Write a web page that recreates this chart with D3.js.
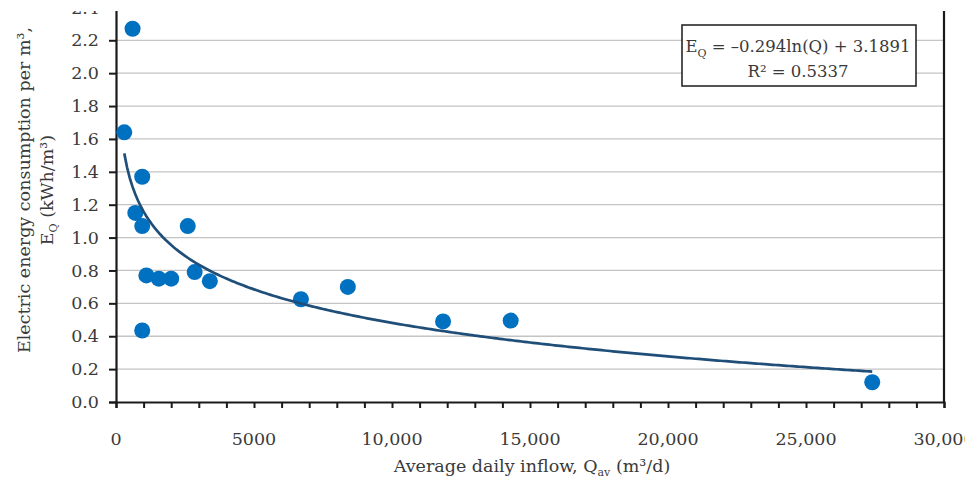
<!DOCTYPE html>
<html>
<head>
<meta charset="utf-8">
<script src="https://cdn.jsdelivr.net/npm/d3@7"></script>
<style>
  body { margin: 0; background: #fff; }
  text { font-family: "DejaVu Serif", serif; fill: #3a3a3a; }
</style>
</head>
<body>
<div id="chart"></div>
<script>
// average daily inflow (m3/d) and energy use per m3 (kWh/m3)
var inflow = [600, 300, 950, 700, 950, 2600, 1100, 1550, 2000, 2850, 3400, 950, 6700, 8400, 11850, 14300, 27400];
var energy = [2.27, 1.64, 1.37, 1.15, 1.07, 1.07, 0.77, 0.75, 0.75, 0.79, 0.735, 0.435, 0.625, 0.70, 0.49, 0.495, 0.12];

// log trend line from the chart: E = a ln(Q) + b
var trendA = -0.294, trendB = 3.1891;
var trendFrom = 300, trendTo = 27400;

var xTicks = [0, 5000, 10000, 15000, 20000, 25000, 30000];
var xTickLabels = ["0", "5000", "10,000", "15,000", "20,000", "25,000", "30,000"];
var yTicks = [0, 0.2, 0.4, 0.6, 0.8, 1.0, 1.2, 1.4, 1.6, 1.8, 2.0, 2.2, 2.4];

var width = 965, height = 478;
var margin = {left: 116, right: 944, top: 7.4, bottom: 402};

var svg = d3.select("#chart").append("svg")
  .attr("width", width)
  .attr("height", height);

var x = d3.scaleLinear().domain([0, 30000]).range([margin.left, margin.right]);
var y = d3.scaleLinear().domain([0, 2.4]).range([margin.bottom, margin.top]);

// gridlines
svg.append("g")
  .selectAll("line")
  .data(yTicks.slice(1))
  .enter().append("line")
  .attr("x1", margin.left).attr("x2", margin.right)
  .attr("y1", function(d) { return y(d); })
  .attr("y2", function(d) { return y(d); })
  .attr("stroke", "#c4c4c4")
  .attr("stroke-width", 1.3);

// y axis
var yAxis = svg.append("g")
  .attr("transform", "translate(" + margin.left + ",0)")
  .call(d3.axisLeft(y).tickValues(yTicks).tickSize(7).tickPadding(10).tickFormat(d3.format(".1f")));
yAxis.select(".domain").attr("stroke", "#1a1a1a").attr("stroke-width", 2.2);
yAxis.selectAll(".tick line").attr("stroke", "#1a1a1a").attr("stroke-width", 2);
yAxis.selectAll(".tick text")
  .style("font-family", "DejaVu Serif, serif")
  .style("font-size", "17.5px")
  .attr("fill", "#3a3a3a");

// x axis, minor ticks every 1000
var xAxis = svg.append("g")
  .attr("transform", "translate(0," + margin.bottom + ")")
  .call(d3.axisBottom(x).tickValues(d3.range(0, 30001, 1000)).tickSize(6).tickFormat(""));
xAxis.select(".domain").attr("stroke", "#1a1a1a").attr("stroke-width", 2.2);
xAxis.selectAll(".tick line").attr("stroke", "#1a1a1a").attr("stroke-width", 2);

svg.append("g")
  .selectAll("text")
  .data(xTicks)
  .enter().append("text")
  .attr("x", function(d) { return x(d); })
  .attr("y", margin.bottom + 43)
  .attr("text-anchor", "middle")
  .style("font-size", "17.5px")
  .text(function(d, i) { return xTickLabels[i]; });

// right border
svg.append("line")
  .attr("x1", margin.right).attr("x2", margin.right)
  .attr("y1", margin.top).attr("y2", margin.bottom)
  .attr("stroke", "#1a1a1a")
  .attr("stroke-width", 2.2);

// points
svg.append("g")
  .selectAll("circle")
  .data(inflow)
  .enter().append("circle")
  .attr("cx", function(d) { return x(d); })
  .attr("cy", function(d, i) { return y(energy[i]); })
  .attr("r", 8)
  .attr("fill", "#0070c0");

// trend line
var trendQ = d3.range(trendFrom, trendTo + 1, 100);
var line = d3.line()
  .x(function(q) { return x(q); })
  .y(function(q) { return y(trendA * Math.log(q) + trendB); });
svg.append("path")
  .datum(trendQ)
  .attr("d", line)
  .attr("fill", "none")
  .attr("stroke", "#1f4e79")
  .attr("stroke-width", 2.7);

// crop band at the top, as in the source picture
svg.append("rect")
  .attr("x", 0).attr("y", 0)
  .attr("width", width).attr("height", 11)
  .attr("fill", "#fff");

// equation box
svg.append("rect")
  .attr("x", 682).attr("y", 25)
  .attr("width", 234).attr("height", 61)
  .attr("fill", "#fff")
  .attr("stroke", "#1a1a1a")
  .attr("stroke-width", 1.5);

var eq = svg.append("text")
  .attr("x", 798).attr("y", 52)
  .attr("text-anchor", "middle")
  .style("font-size", "16.5px")
  .attr("fill", "#1a1a1a");
eq.append("tspan").text("E");
eq.append("tspan").attr("dy", 5).style("font-size", "11px").text("Q");
eq.append("tspan").attr("dy", -5).text(" = \u20130.294ln(Q) + 3.1891");

svg.append("text")
  .attr("x", 798).attr("y", 77)
  .attr("text-anchor", "middle")
  .style("font-size", "16.5px")
  .attr("fill", "#1a1a1a")
  .text("R\u00b2 = 0.5337");

// axis titles
svg.append("text")
  .attr("transform", "translate(30,190) rotate(-90)")
  .attr("text-anchor", "middle")
  .style("font-size", "17.5px")
  .text("Electric energy consumption per m\u00b3,");

var yTitle2 = svg.append("text")
  .attr("transform", "translate(53,190) rotate(-90)")
  .attr("text-anchor", "middle")
  .style("font-size", "17.5px");
yTitle2.append("tspan").text("E");
yTitle2.append("tspan").attr("dy", 4).style("font-size", "11px").text("Q");
yTitle2.append("tspan").attr("dy", -4).text(" (kWh/m\u00b3)");

var xTitle = svg.append("text")
  .attr("x", 532).attr("y", 472)
  .attr("text-anchor", "middle")
  .style("font-size", "17.5px");
xTitle.append("tspan").text("Average daily inflow, Q");
xTitle.append("tspan").attr("dy", 4).style("font-size", "11px").text("av");
xTitle.append("tspan").attr("dy", -4).text(" (m\u00b3/d)");
</script>
</body>
</html>
